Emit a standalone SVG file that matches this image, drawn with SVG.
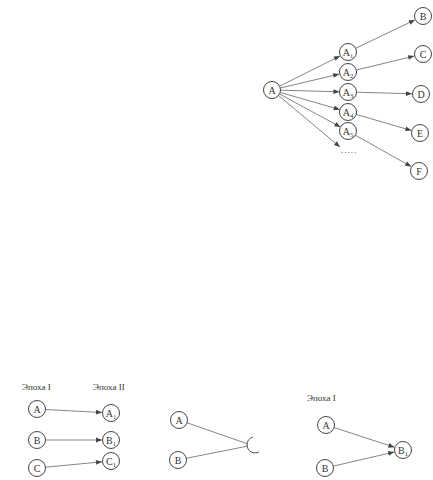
<svg xmlns="http://www.w3.org/2000/svg" width="433" height="480" viewBox="0 0 433 480">
<defs>
<marker id="ah" viewBox="0 0 10 10" refX="10" refY="5" markerWidth="7" markerHeight="6" markerUnits="userSpaceOnUse" orient="auto">
<path d="M0,1 L10,5 L0,9 Z" fill="#444"/>
</marker>
<style>
.n circle{fill:#fff;stroke:#444;stroke-width:1}
.n text,.lbl{font-family:"Liberation Serif","DejaVu Serif",serif;fill:#333}
.n text{font-size:10px;text-anchor:middle}
.lbl{font-size:9px}
.sub{font-size:6.5px}
.e line{stroke:#666;stroke-width:0.8;fill:none}
.e .a{marker-end:url(#ah)}
.e path{stroke:#555;stroke-width:1;fill:none}
</style>
</defs>
<rect width="433" height="480" fill="#fff"/>
<g id="connectors" class="e">
<line class="a" x1="279.6" y1="86.2" x2="340" y2="56"/>
<line class="a" x1="280.3" y1="88" x2="339.2" y2="74.1"/>
<line class="a" x1="280.5" y1="90.2" x2="339.5" y2="91.8"/>
<line class="a" x1="280.2" y1="92.4" x2="339.8" y2="109.6"/>
<line class="a" x1="279.5" y1="94" x2="340.5" y2="127"/>
<line class="a" x1="278.5" y1="95.5" x2="340" y2="147"/>
<line class="a" x1="355.7" y1="48.3" x2="414.9" y2="19.9"/>
<line class="a" x1="356.3" y1="70" x2="414.2" y2="56.1"/>
<line class="a" x1="356.5" y1="92.2" x2="412" y2="93.8"/>
<line class="a" x1="356.2" y1="114.4" x2="411.4" y2="130.5"/>
<line class="a" x1="355.4" y1="135.2" x2="411.2" y2="166.6"/>
<line class="a" x1="45.5" y1="409.5" x2="102" y2="412.5"/>
<line class="a" x1="45.5" y1="440" x2="102" y2="440"/>
<line class="a" x1="45.5" y1="467.2" x2="102" y2="461.8"/>
<line x1="187" y1="422.8" x2="248" y2="444"/>
<line x1="186.3" y1="458.3" x2="248" y2="446"/>
<path d="M253,437.2 A8,8 0 0,0 247,445 A8,8 0 0,0 259,451.9"/>
<line class="a" x1="334.1" y1="427.6" x2="394.4" y2="447.2"/>
<line class="a" x1="333.3" y1="466.1" x2="394.2" y2="452"/>
</g>
<g id="dots"><text class="lbl" x="349" y="153" text-anchor="middle" style="font-size:9px;letter-spacing:1px">.....</text></g>
<g id="tA" class="n"><circle cx="272" cy="90" r="8.5"/><text x="272" y="93.5">A</text></g>
<g id="tA1" class="n"><circle cx="348" cy="52" r="8.5"/><text x="348" y="55.5">A<tspan class="sub" dy="2">1</tspan></text></g>
<g id="tA2" class="n"><circle cx="348" cy="72" r="8.5"/><text x="348" y="75.5">A<tspan class="sub" dy="2">2</tspan></text></g>
<g id="tA3" class="n"><circle cx="348" cy="92" r="8.5"/><text x="348" y="95.5">A<tspan class="sub" dy="2">3</tspan></text></g>
<g id="tA4" class="n"><circle cx="348" cy="112" r="8.5"/><text x="348" y="115.5">A<tspan class="sub" dy="2">4</tspan></text></g>
<g id="tA5" class="n"><circle cx="348" cy="131" r="8.5"/><text x="348" y="134.5">A<tspan class="sub" dy="2">5</tspan></text></g>
<g id="tB" class="n"><circle cx="423" cy="16" r="8.5"/><text x="423" y="19.5">B</text></g>
<g id="tC" class="n"><circle cx="423" cy="54" r="8.5"/><text x="423" y="57.5">C</text></g>
<g id="tD" class="n"><circle cx="421" cy="94" r="8.5"/><text x="421" y="97.5">D</text></g>
<g id="tE" class="n"><circle cx="420" cy="133" r="8.5"/><text x="420" y="136.5">E</text></g>
<g id="tF" class="n"><circle cx="419" cy="171" r="8.5"/><text x="419" y="174.5">F</text></g>
<g id="l1"><text class="lbl" x="22" y="390">Эпоха I</text><text class="lbl" x="93" y="390">Эпоха II</text></g>
<g id="lA" class="n"><circle cx="37" cy="409" r="8.5"/><text x="37" y="412.5">A</text></g>
<g id="lB" class="n"><circle cx="37" cy="440" r="8.5"/><text x="37" y="443.5">B</text></g>
<g id="lC" class="n"><circle cx="37" cy="468" r="8.5"/><text x="37" y="471.5">C</text></g>
<g id="lA1" class="n"><circle cx="111" cy="413" r="8.5"/><text x="111" y="416.5">A<tspan class="sub" dy="2">1</tspan></text></g>
<g id="lB1" class="n"><circle cx="111" cy="440" r="8.5"/><text x="111" y="443.5">B<tspan class="sub" dy="2">1</tspan></text></g>
<g id="lC1" class="n"><circle cx="111" cy="461" r="8.5"/><text x="111" y="464.5">C<tspan class="sub" dy="2">1</tspan></text></g>
<g id="mA" class="n"><circle cx="179" cy="420" r="8.5"/><text x="179" y="423.5">A</text></g>
<g id="mB" class="n"><circle cx="178" cy="460" r="8.5"/><text x="178" y="463.5">B</text></g>
<g id="l3"><text class="lbl" x="307" y="401">Эпоха I</text></g>
<g id="rA" class="n"><circle cx="326" cy="425" r="8.5"/><text x="326" y="428.5">A</text></g>
<g id="rB" class="n"><circle cx="325" cy="468" r="8.5"/><text x="325" y="471.5">B</text></g>
<g id="rB1" class="n"><circle cx="403" cy="450" r="8.5"/><text x="403" y="453.5">B<tspan class="sub" dy="2">1</tspan></text></g>
</svg>
